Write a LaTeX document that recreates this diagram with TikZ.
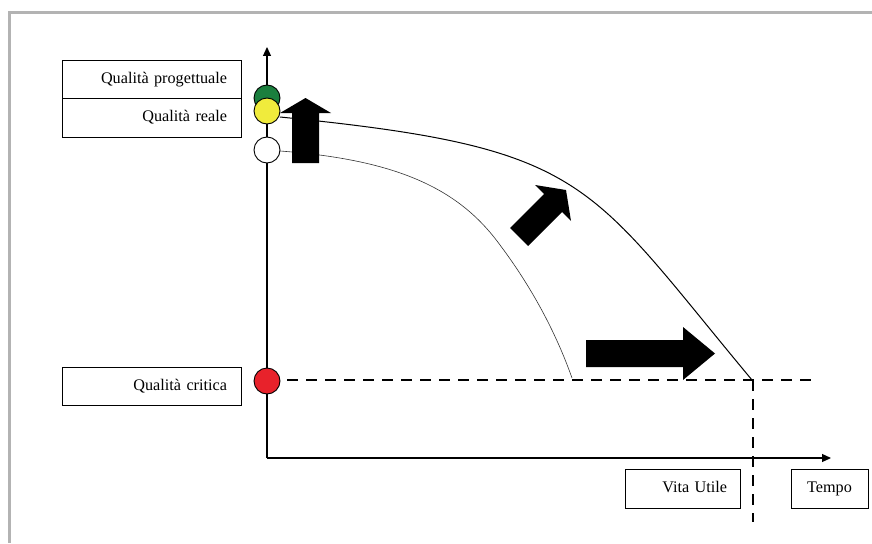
\documentclass[tikz,border=0pt]{standalone}
\usepackage{fontspec}
\setmainfont{Liberation Serif}
\usetikzlibrary{arrows.meta}
\definecolor{frameg}{HTML}{B3B3B3}
\definecolor{dotgreen}{HTML}{1B7F3E}
\definecolor{dotyellow}{HTML}{F0EB3C}
\definecolor{dotred}{HTML}{E8222B}
\begin{document}
\begin{tikzpicture}[x=1pt,y=-1pt,
  lbl/.style={draw, line width=0.9pt, minimum height=38.5pt, inner ysep=0pt,
    text height=11pt, text depth=3.5pt,
    font=\fontsize{16.2}{19}\selectfont},
  rlbl/.style={lbl, align=right},
  dot/.style={circle, draw, line width=0.9pt, minimum size=26pt, inner sep=0pt},
  axis/.style={line width=1.2pt, -{Triangle[length=9pt,width=8pt]}},
  crit/.style={line width=2.4pt, dash pattern=on 11pt off 8pt},
  bigarrow/.style={fill=black, draw=none}
]
\useasboundingbox (0,0) rectangle (872,543);
% frame
\draw[frameg, line width=3pt] (8,12.5) -- (872,12.5);
\draw[frameg, line width=3pt] (9.5,11) -- (9.5,543);

% axes
\coordinate (O) at (267,458);
\coordinate (ytop) at (267,47);
\coordinate (xend) at (831,458);
\draw[axis] (O) -- (ytop);
\draw[axis] (O) -- (xend);

% labels
\node[rlbl, text width=151pt, inner xsep=14pt] (qp) at (151.5,79.5) {Qualità progettuale};
\node[rlbl, text width=151pt, inner xsep=14pt] (qr) at (151.5,118) {Qualità reale};
\node[rlbl, text width=151pt, inner xsep=14pt] (qc) at (151.5,386.5) {Qualità critica};
\node[rlbl, text width=89pt, inner xsep=13pt] (vu) at (682.5,489) {Vita Utile};
\node[lbl, minimum width=77pt, inner xsep=0pt] (tp) at (829.5,489) {Tempo};

% curves
\coordinate (u0) at (280,117);
\coordinate (vend) at (752,380);
\draw[line width=1pt] (u0) .. controls (591,148) and (585,180) .. (vend);
\coordinate (l0) at (280,151);
\coordinate (lend) at (572,378);
\draw[line width=0.6pt, black!80] (l0) .. controls (400,160) and (460,190) .. (500,245)
  .. controls (530,285) and (555,330) .. (lend);

% dashed lines
\coordinate (c0) at (287,380);
\coordinate (c1) at (818,380);
\coordinate (v1) at (753,522);
\draw[crit] (c0) -- (c1);
\draw[crit] (753,380) -- (v1);

% dots
\node[dot, fill=dotgreen] (g) at (267,98) {};
\node[dot, fill=dotyellow] (y) at (267,111) {};
\node[dot, fill=white] (w) at (267,150) {};
\node[dot, fill=dotred] (r) at (267,381) {};

% big arrows
\fill[bigarrow] (292,163) -- (292,113) -- (280,113) -- (305.5,98) -- (331,113)
  -- (319,113) -- (319,163) -- cycle;
\fill[bigarrow] (510,228) -- (544,194) -- (535,185) -- (566,190) -- (571,221)
  -- (562,212) -- (528,246) -- cycle;
\fill[bigarrow] (586,340) -- (683,340) -- (683,327) -- (715,353.5) -- (683,380)
  -- (683,367) -- (586,367) -- cycle;
\end{tikzpicture}
\end{document}
